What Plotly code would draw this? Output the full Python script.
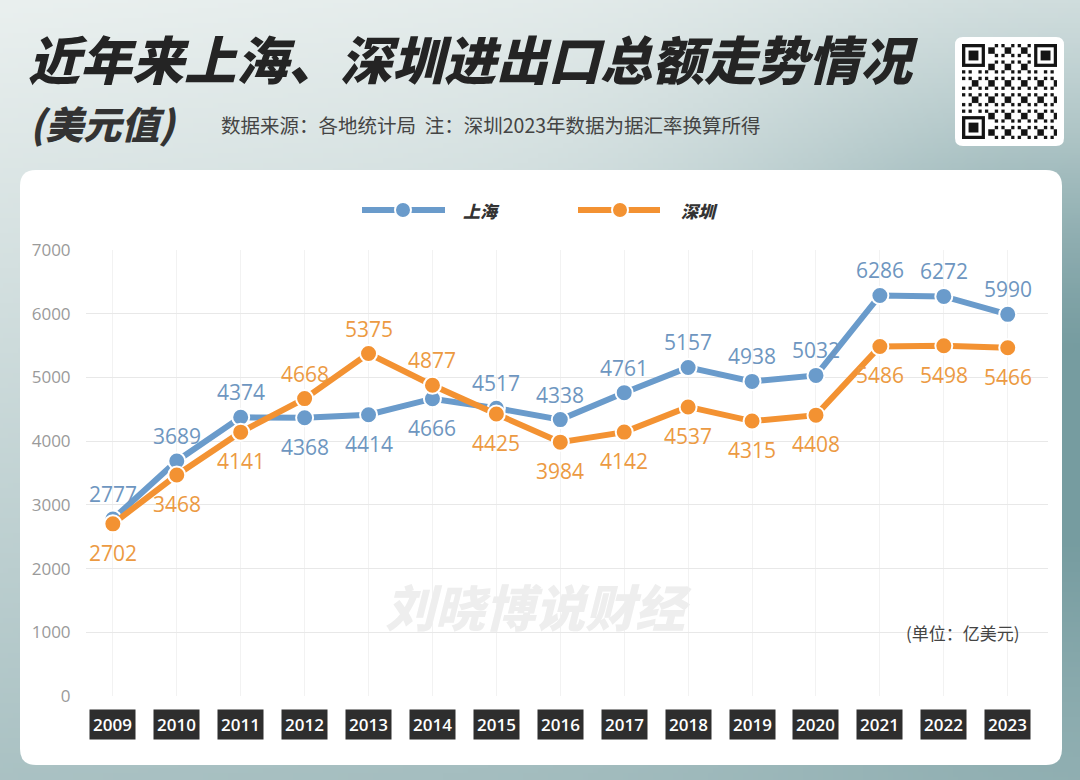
import base64, struct, zlib
import numpy as np
import plotly.graph_objects as go

years = [str(y) for y in range(2009, 2024)]
shanghai = [2777, 3689, 4374, 4368, 4414, 4666, 4517, 4338, 4761, 5157, 4938, 5032, 6286, 6272, 5990]
shenzhen = [2702, 3468, 4141, 4668, 5375, 4877, 4425, 3984, 4142, 4537, 4315, 4408, 5486, 5498, 5466]
sh_pos = ["top", "top", "top", "bottom", "bottom", "bottom", "top", "top", "top", "top", "top", "top",
          "top", "top", "top"]
sz_pos = ["bottom", "bottom", "bottom", "top", "top", "top", "bottom", "bottom", "bottom", "bottom", "bottom",
          "bottom", "bottom", "bottom", "bottom"]
yticks = [0, 1000, 2000, 3000, 4000, 5000, 6000, 7000]

W, H = 1080, 780
L, R, T, B = 86, 1048, 250, 696


def px(x):
    return (x - L) / (R - L)


def py(y):
    return (B - y) / (B - T)


def png_uri(arr):
    h, w, _ = arr.shape
    raw = b"".join(b"\x00" + arr[i].tobytes() for i in range(h))

    def chunk(tag, data):
        c = struct.pack(">I", len(data)) + tag + data
        return c + struct.pack(">I", zlib.crc32(tag + data) & 0xffffffff)

    png = b"\x89PNG\r\n\x1a\n" + chunk(b"IHDR", struct.pack(">IIBBBBB", w, h, 8, 2, 0, 0, 0))
    png += chunk(b"IDAT", zlib.compress(raw, 9)) + chunk(b"IEND", b"")
    return "data:image/png;base64," + base64.b64encode(png).decode()


# background gradient
gw, gh = 216, 156
tx = np.linspace(0, 1, gw)[None, :]
ty = np.linspace(0, 1, gh)[:, None]
w = 0.10 * tx + 0.55 * ty + 0.66 * np.exp(-((tx - 1) ** 2 / 0.1 + (ty - 0.5) ** 2 / 0.15))
w = np.clip(w, 0, 1)[..., None]
light = np.array([234, 240, 239])[None, None, :]
dark = np.array([118, 156, 160])[None, None, :]
bg = (light * (1 - w) + dark * w).astype(np.uint8)
bg_uri = png_uri(bg)

# QR-like decorative block
n = 29
q = np.ones((n, n), dtype=bool)
for i in range(n):
    for j in range(n):
        q[i, j] = ((i * 7 + j * 13 + i * j * 3) % 5) < 2


def finder(r, c):
    for i in range(7):
        for j in range(7):
            edge = i in (0, 6) or j in (0, 6)
            core = 2 <= i <= 4 and 2 <= j <= 4
            q[r + i, c + j] = edge or core
    for i in range(-1, 8):
        for j in range(-1, 8):
            if (0 <= r + i < n and 0 <= c + j < n) and not (0 <= i < 7 and 0 <= j < 7):
                q[r + i, c + j] = False


finder(0, 0)
finder(0, n - 7)
finder(n - 7, 0)
qr = np.where(q[..., None], np.array([20, 20, 20]), np.array([255, 255, 255])).astype(np.uint8)
qr = np.repeat(np.repeat(qr, 3, axis=0), 3, axis=1)
qr_uri = png_uri(qr)

BLUE = "#6a9bcb"
ORANGE = "#f39232"
BLUE_T = "#6e96c0"
ORANGE_T = "#ec9a42"

fig = go.Figure()
fig.add_trace(go.Scatter(
    x=years, y=shanghai, mode="lines+markers",
    line=dict(color=BLUE, width=6), marker=dict(size=17, color=BLUE, line=dict(color="white", width=2)),
    cliponaxis=False, showlegend=False, name="上海"))
fig.add_trace(go.Scatter(
    x=years, y=shenzhen, mode="lines+markers",
    line=dict(color=ORANGE, width=6), marker=dict(size=17, color=ORANGE, line=dict(color="white", width=2)),
    cliponaxis=False, showlegend=False, name="深圳"))


def rounded(x0, y0, x1, y1, r):
    X0, X1 = px(x0), px(x1)
    Y0, Y1 = py(y0), py(y1)
    rx = r / (R - L)
    ry = r / (B - T)
    return (f"M {X0+rx},{Y0} L {X1-rx},{Y0} Q {X1},{Y0} {X1},{Y0-ry} "
            f"L {X1},{Y1+ry} Q {X1},{Y1} {X1-rx},{Y1} L {X0+rx},{Y1} Q {X0},{Y1} {X0},{Y1+ry} "
            f"L {X0},{Y0-ry} Q {X0},{Y0} {X0+rx},{Y0} Z")


shapes = [
    dict(type="path", xref="paper", yref="paper", path=rounded(20, 170, 1062, 765, 16),
         fillcolor="white", line=dict(width=0), layer="below"),
    dict(type="path", xref="paper", yref="paper", path=rounded(955, 37, 1064, 146, 8),
         fillcolor="white", line=dict(width=0), layer="below"),
]
# manual legend
for (x0, x1, xm, col) in [(362, 445, 403, BLUE), (578, 660, 620, ORANGE)]:
    shapes.append(dict(type="line", xref="paper", yref="paper", x0=px(x0), x1=px(x1), y0=py(210), y1=py(210),
                       line=dict(color=col, width=6)))
    r = 8
    shapes.append(dict(type="circle", xref="paper", yref="paper", x0=px(xm - r), x1=px(xm + r),
                       y0=py(210 + r), y1=py(210 - r), fillcolor=col, line=dict(color="white", width=2)))

annotations = [
    dict(text="近年来上海、深圳进出口总额走势情况", xref="paper", yref="paper", x=px(26), y=py(57),
         xanchor="left", yanchor="middle", showarrow=False,
         font=dict(family="Noto Sans CJK SC", size=52, color="#242424", weight=900, style="italic")),
    dict(text="(美元值)", xref="paper", yref="paper", x=px(28), y=py(122),
         xanchor="left", yanchor="middle", showarrow=False,
         font=dict(family="Noto Sans CJK SC", size=38, color="#333333", weight=900, style="italic")),
    dict(text="数据来源：各地统计局  注：深圳2023年数据为据汇率换算所得", xref="paper", yref="paper", x=px(219), y=py(124),
         xanchor="left", yanchor="middle", showarrow=False,
         font=dict(family="Noto Sans CJK SC", size=19.5, color="#444444")),
    dict(text="上海", xref="paper", yref="paper", x=px(461), y=py(210), xanchor="left", yanchor="middle",
         showarrow=False, font=dict(family="Noto Sans CJK SC", size=17, color="#333333", weight=900, style="italic")),
    dict(text="深圳", xref="paper", yref="paper", x=px(679), y=py(210), xanchor="left", yanchor="middle",
         showarrow=False, font=dict(family="Noto Sans CJK SC", size=17, color="#333333", weight=900, style="italic")),
    dict(text="刘晓博说财经", xref="paper", yref="paper", x=px(538), y=py(605), xanchor="center", yanchor="middle",
         showarrow=False, font=dict(family="Noto Sans CJK SC", size=50, color="#eeeeee", weight=900, style="italic")),
    dict(text="(单位：亿美元)", xref="paper", yref="paper", x=px(1022), y=py(632), xanchor="right", yanchor="middle",
         showarrow=False, font=dict(family="Noto Sans CJK SC", size=17, color="#444444")),
]
for i, yr in enumerate(years):
    annotations.append(dict(text=yr, x=i, xref="x", y=0, yref="paper", yshift=-28,
                            yanchor="middle", xanchor="center", showarrow=False, bgcolor="#2e2e2e", borderpad=3,
                            font=dict(family="Open Sans", size=17, color="white", weight=600)))

# data labels
for vals, poss, col in [(shanghai, sh_pos, BLUE_T), (shenzhen, sz_pos, ORANGE_T)]:
    for i, (v, p) in enumerate(zip(vals, poss)):
        annotations.append(dict(text=str(v), x=i, y=v, xref="x", yref="y", showarrow=False,
                                xanchor="center", yanchor="middle", yshift=25 if p == "top" else -29,
                                font=dict(family="Open Sans", size=21, color=col)))

fig.update_layout(
    width=W, height=H,
    margin=dict(l=L, r=W - R, t=T, b=H - B, pad=0),
    paper_bgcolor="#dfe7e7", plot_bgcolor="rgba(0,0,0,0)",
    shapes=shapes, annotations=annotations,
    images=[
        dict(source=bg_uri, xref="paper", yref="paper", x=px(0), y=py(0), sizex=W / (R - L), sizey=H / (B - T),
             xanchor="left", yanchor="top", sizing="stretch", layer="below"),
        dict(source=qr_uri, xref="paper", yref="paper", x=px(962), y=py(44), sizex=95 / (R - L), sizey=95 / (B - T),
             xanchor="left", yanchor="top", sizing="stretch", layer="above"),
    ],
    xaxis=dict(type="category", range=[-0.42, 14.63], showgrid=True, gridcolor="#f2f2f2", gridwidth=1,
               showticklabels=False, zeroline=False, showline=False, fixedrange=True),
    yaxis=dict(range=[0, 7000], tickvals=yticks, showgrid=True, gridcolor="#e8e8e8", gridwidth=1,
               zeroline=False, showline=False, ticks="outside", ticklen=11, tickcolor="rgba(0,0,0,0)",
               tickfont=dict(family="Open Sans", size=17, color="#9a9a9a"), fixedrange=True),
    font=dict(family="Noto Sans CJK SC"),
)

fig.write_html("out.html")
